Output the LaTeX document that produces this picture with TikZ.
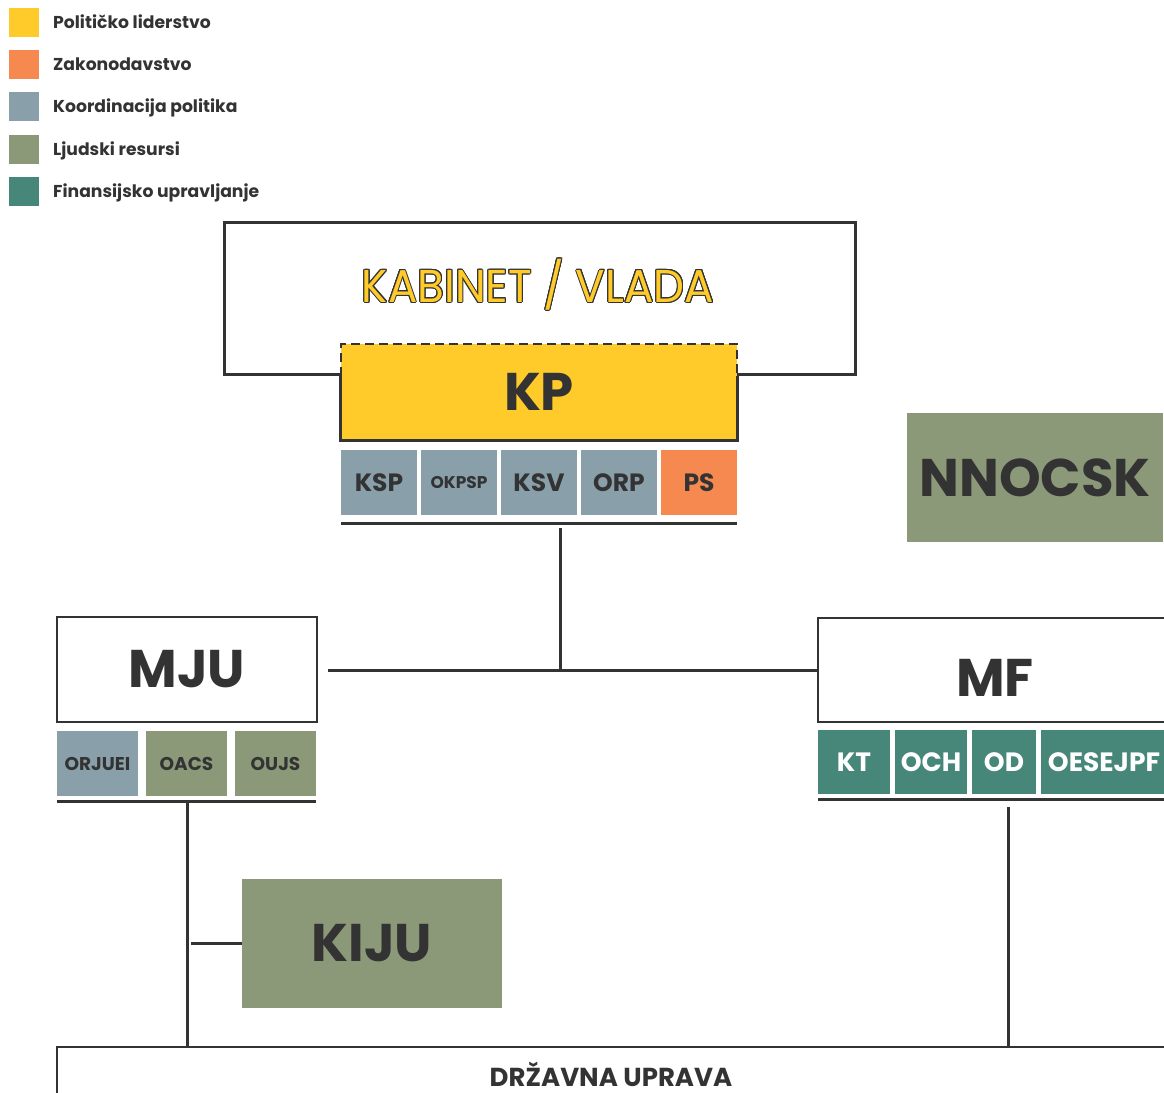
\documentclass[tikz,border=0pt]{standalone}
\usepackage{fontspec}
\setmainfont{Poppins}
\newfontfamily\narrowfamily[FakeStretch=0.95]{Poppins}
\usepackage{contour}
\usetikzlibrary{positioning}

\definecolor{ink}{HTML}{333333}
\definecolor{leadyellow}{HTML}{FFCB2B}
\definecolor{laworange}{HTML}{F6894F}
\definecolor{coordblue}{HTML}{89A0AB}
\definecolor{hrgreen}{HTML}{8B9979}
\definecolor{finteal}{HTML}{46877A}

\newcommand{\headfont}{\bfseries\fontsize{53}{57}\selectfont}
\newcommand{\unitfont}{\bfseries\fontsize{25}{27}\selectfont}
\newcommand{\smallunitfont}{\bfseries\fontsize{18.5}{20}\selectfont}
\newcommand{\legendfont}{\bfseries\fontsize{17.2}{19}\selectfont}
\newcommand{\titlefont}{\narrowfamily\fontsize{46}{50}\selectfont}
\newcommand{\statefont}{\bfseries\fontsize{26}{28}\selectfont}
\contourlength{1pt}

\begin{document}
\begin{tikzpicture}[x=1pt, y=-1pt, text=ink,
    ministry/.style={draw=ink, line width=1.2pt, fill=white, inner sep=0pt, font=\headfont},
    unit/.style={minimum height=65pt, inner sep=0pt, outer sep=0pt, font=\unitfont},
    council/.style={fill=hrgreen, inner sep=0pt, font=\headfont},
    link/.style={draw=ink, line width=3pt}]
  \useasboundingbox (0,0) rectangle (1164,1092);
  \clip (0,0) rectangle (1164,1092);

  % legend
  \foreach \y/\col/\txt [count=\i] in {22.5/leadyellow/Političko liderstvo,
      64.5/laworange/Zakonodavstvo, 106.5/coordblue/Koordinacija politika,
      149/hrgreen/Ljudski resursi, 191/finteal/Finansijsko upravljanje} {
    \node [fill=\col, minimum width=30pt, minimum height=29pt, inner sep=0pt] (leg\i) at (24,\y) {};
    \node [anchor=base west, font=\legendfont, inner sep=0pt] (legtxt\i) at (53,\y+6) {\txt};
  }

  % cabinet and prime minister's office
  \node [draw=ink, line width=3pt, minimum width=631pt, minimum height=152pt] (vlada) at (539.5,298) {};
  \node [font=\titlefont] (vladatitle) at (538,285) {\color{leadyellow}\contour{ink}{KABINET / VLADA}};
  \node [fill=leadyellow, minimum width=396pt, minimum height=96pt, inner sep=0pt, font=\headfont] (kp) at (539,392) {KP};
  \draw [ink, line width=3pt] (kp.west |- vlada.south) -- (kp.south west) -- (kp.south east) -- (kp.east |- vlada.south);
  \draw [ink, line width=2pt, dash pattern=on 9pt off 5pt] (kp.west |- vlada.south) -- (kp.north west) -- (kp.north east) -- (kp.east |- vlada.south);

  \begin{scope}[every node/.append style={unit, minimum width=76pt}]
    \node [fill=coordblue, anchor=north west] (ksp) at (341,450) {KSP};
    \node [fill=coordblue, right=4pt of ksp, font=\bfseries\fontsize{17}{19}\selectfont] (okpsp) {OKPSP};
    \node [fill=coordblue, right=4pt of okpsp] (ksv) {KSV};
    \node [fill=coordblue, right=4pt of ksv] (orp) {ORP};
    \node [fill=laworange, right=4pt of orp] (ps) {PS};
  \end{scope}

  \node [council, minimum width=256pt, minimum height=129pt] (nnocsk) at (1035,477.5) {NNOCSK};

  % ministries
  \node [ministry, minimum width=260pt, minimum height=105pt] (mju) at (187,669.5) {MJU};
  \node [ministry, minimum width=354pt, minimum height=104pt] (mf) at (995,670) {};
  \node [font=\headfont, inner sep=0pt] (mftitle) at ([yshift=-8pt]mf.center) {MF};

  \begin{scope}[every node/.append style={unit, minimum width=81pt, font=\smallunitfont}]
    \node [fill=coordblue, anchor=north west] (orjuei) at (57,731) {ORJUEI};
    \node [fill=hrgreen, right=8pt of orjuei] (oacs) {OACS};
    \node [fill=hrgreen, right=8pt of oacs] (oujs) {OUJS};
  \end{scope}

  \begin{scope}[every node/.append style={unit, minimum height=64pt, fill=finteal, text=white, font=\bfseries\fontsize{26.5}{28}\selectfont}]
    \node [minimum width=72pt, anchor=north west] (kt) at (818,730) {KT};
    \node [minimum width=72pt, right=5pt of kt] (och) {OCH};
    \node [minimum width=64pt, right=5pt of och] (od) {OD};
    \node [minimum width=126pt, right=5pt of od] (oesejpf) {OESEJPF};
  \end{scope}

  \node [council, minimum width=260pt, minimum height=129pt] (kiju) at (372,943.5) {KIJU};

  \node [draw=ink, line width=2.5pt, fill=white, minimum width=1108pt, minimum height=56pt] (state) at (611,1075) {};
  \node [font=\statefont, inner sep=0pt] (statetitle) at (611,1074) {DRŽAVNA UPRAVA};

  % connectors
  \coordinate (hub) at (560,670);
  \coordinate (mjuspine) at (187,801);
  \coordinate (mfspine) at (1008,799);

  \draw [link] ([yshift=-8pt]ksp.south west) -- ([yshift=-8pt]ps.south east);
  \draw [link] ([yshift=-13pt]ksv.south -| hub) -- (hub);
  \draw [link] ([xshift=10pt]mju.east |- hub) -- (mf.west |- hub);

  \draw [link] ([yshift=-5pt]orjuei.south west) -- ([yshift=-5pt]oujs.south east);
  \draw [link] (mjuspine) -- (state.north -| mjuspine);
  \draw [link, shorten >=4pt] (kiju.west) -- (kiju.west -| mjuspine);

  \draw [link] ([yshift=-5pt]kt.south west) -- ([yshift=-5pt]oesejpf.south east);
  \draw [link] ([yshift=-8pt]mfspine) -- (state.north -| mfspine);
\end{tikzpicture}
\end{document}
